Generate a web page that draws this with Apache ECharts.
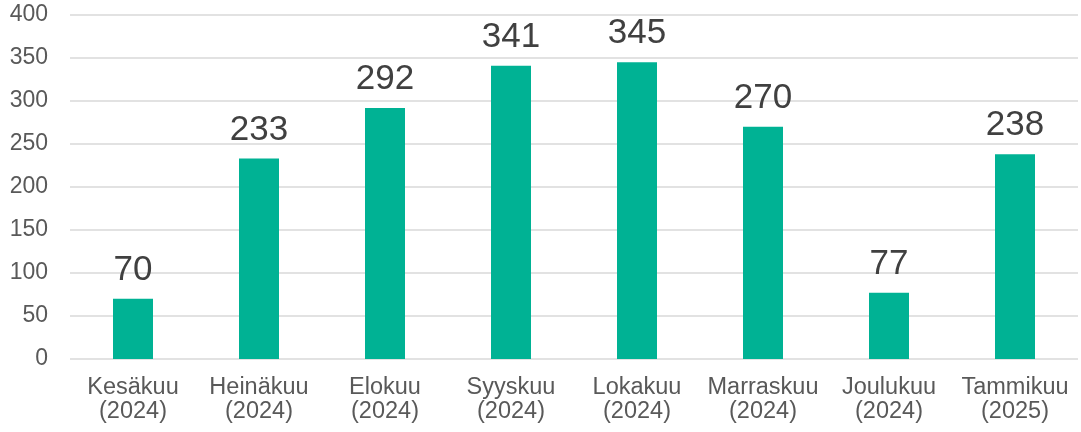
<!DOCTYPE html>
<html>
<head>
<meta charset="utf-8">
<script src="https://cdn.jsdelivr.net/npm/echarts@6/dist/echarts.min.js"></script>
<style>
  html, body { margin: 0; padding: 0; background: #fff; }
  #chart { width: 1081px; height: 432px; }
</style>
</head>
<body>
<div id="chart"></div>
<script>
const categories = [
  'Kesäkuu\n(2024)', 'Heinäkuu\n(2024)', 'Elokuu\n(2024)', 'Syyskuu\n(2024)',
  'Lokakuu\n(2024)', 'Marraskuu\n(2024)', 'Joulukuu\n(2024)', 'Tammikuu\n(2025)'
];
const values = [70, 233, 292, 341, 345, 270, 77, 238];

const chart = echarts.init(document.getElementById('chart'));
chart.setOption({
  backgroundColor: '#ffffff',
  animation: false,
  grid: { left: 70, right: 3, top: 15, bottom: 73, containLabel: false },
  xAxis: {
    type: 'category',
    data: categories,
    axisLine: { show: false },
    axisTick: { show: false },
    axisLabel: {
      color: '#595959',
      fontSize: 23.5,
      lineHeight: 24,
      margin: 17,
      fontFamily: 'Liberation Sans, Arial, sans-serif',
      interval: 0
    }
  },
  yAxis: {
    type: 'value',
    min: 0,
    max: 400,
    interval: 50,
    axisLine: { show: false },
    axisTick: { show: false },
    axisLabel: {
      color: '#595959',
      fontSize: 23,
      margin: 22,
      fontFamily: 'Liberation Sans, Arial, sans-serif'
    },
    splitLine: { lineStyle: { color: '#d9d9d9', width: 1.5 } }
  },
  series: [{
    type: 'bar',
    data: values,
    barWidth: 40,
    itemStyle: { color: '#00b294' },
    label: {
      show: true,
      position: 'top',
      distance: 11,
      color: '#404040',
      fontSize: 35,
      fontFamily: 'Liberation Sans, Arial, sans-serif'
    }
  }]
});
</script>
</body>
</html>
